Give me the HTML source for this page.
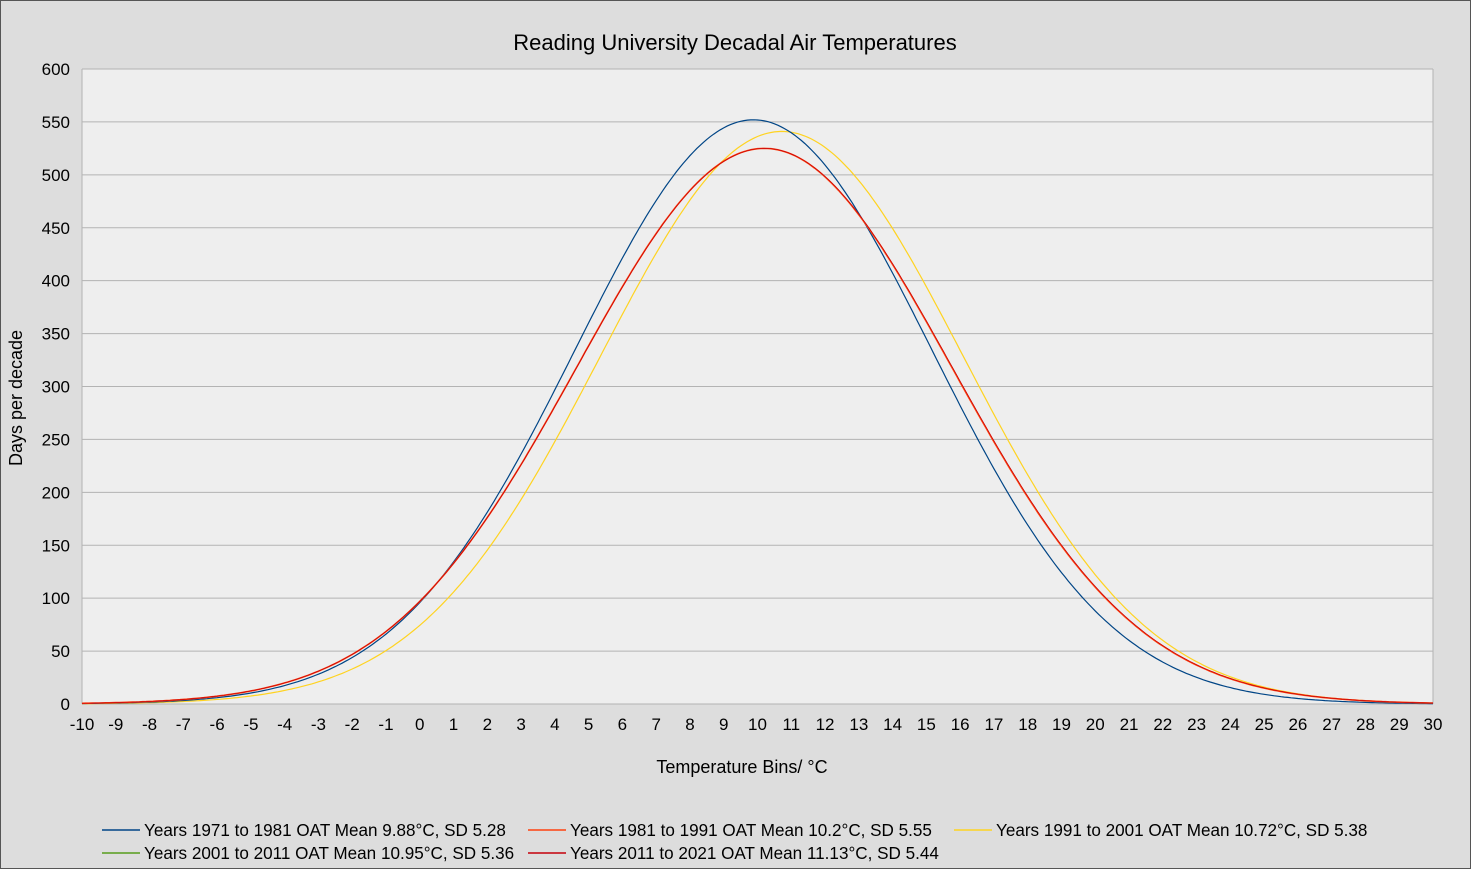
<!DOCTYPE html>
<html><head><meta charset="utf-8"><style>
html,body{margin:0;padding:0;background:#dcdcdc;}
svg{display:block;font-family:"Liberation Sans",Arial,sans-serif;}
</style></head><body>
<svg id="s" width="1471" height="869" xmlns="http://www.w3.org/2000/svg">
<rect x="0.5" y="0.5" width="1470" height="868" fill="#dddddd" stroke="#555" stroke-width="1"/>
<rect x="82" y="69" width="1351" height="635" fill="#eeeeee"/>
<g id="grid" stroke="#b3b3b3" stroke-width="1"></g>
<line x1="1433" y1="69" x2="1433" y2="704" stroke="#b3b3b3"/>
<line x1="82" y1="69" x2="82" y2="704" stroke="#b3b3b3"/>
<g id="ylab" font-size="17" fill="#000" text-anchor="end"></g>
<g id="xlab" font-size="17" fill="#000" text-anchor="middle"></g>
<g id="curves" fill="none"></g>
<text x="735" y="50" font-size="22" text-anchor="middle">Reading University Decadal Air Temperatures</text>
<text x="742" y="773" font-size="18" text-anchor="middle">Temperature Bins/ °C</text>
<text transform="translate(22,398) rotate(-90)" font-size="18" text-anchor="middle">Days per decade</text>
<g font-size="17.1">
<line x1="102" y1="830" x2="140" y2="830" stroke="#004586" stroke-width="1.5"/><text x="144" y="836">Years 1971 to 1981 OAT Mean 9.88°C, SD 5.28</text>
<line x1="528" y1="830" x2="566" y2="830" stroke="#ff420e" stroke-width="1.5"/><text x="570" y="836">Years 1981 to 1991 OAT Mean 10.2°C, SD 5.55</text>
<line x1="954" y1="830" x2="992" y2="830" stroke="#ffd320" stroke-width="1.5"/><text x="996" y="836">Years 1991 to 2001 OAT Mean 10.72°C, SD 5.38</text>
<line x1="102" y1="853" x2="140" y2="853" stroke="#579d1c" stroke-width="1.5"/><text x="144" y="859">Years 2001 to 2011 OAT Mean 10.95°C, SD 5.36</text>
<line x1="528" y1="853" x2="566" y2="853" stroke="#c5000b" stroke-width="1.5"/><text x="570" y="859">Years 2011 to 2021 OAT Mean 11.13°C, SD 5.44</text>
</g>
</svg>
<script>
const NS="http://www.w3.org/2000/svg";
const X=v=>82+(v+10)*1351/40, Y=v=>704-v*635/600;
function el(t,a,p,txt){const e=document.createElementNS(NS,t);for(const k in a)e.setAttribute(k,a[k]);if(txt!==undefined)e.textContent=txt;document.getElementById(p).appendChild(e);}
for(let v=0;v<=600;v+=50){el("line",{x1:82,x2:1433,y1:Y(v),y2:Y(v)},"grid");el("text",{x:70,y:Y(v)+6},"ylab",v);}
for(let t=-10;t<=30;t++){el("text",{x:X(t),y:730},"xlab",t);}
const series=[
 ["#ffd320",541,10.72,5.38,1.2],
 ["#004586",552,9.88,5.28,1.2],
 ["#ff420e",525,10.2,5.55,1.6],
 ["#c5000b",525,10.21,5.555,0.7]];
for(const [c,p,m,s,w] of series){let d="";for(let x=-10;x<=30.001;x+=0.1){const y=p*Math.exp(-((x-m)**2)/(2*s*s));d+=(d?"L":"M")+X(x).toFixed(1)+","+Y(y).toFixed(1);}
el("path",{d:d,stroke:c,"stroke-width":w},"curves");}
</script>
</body></html>
